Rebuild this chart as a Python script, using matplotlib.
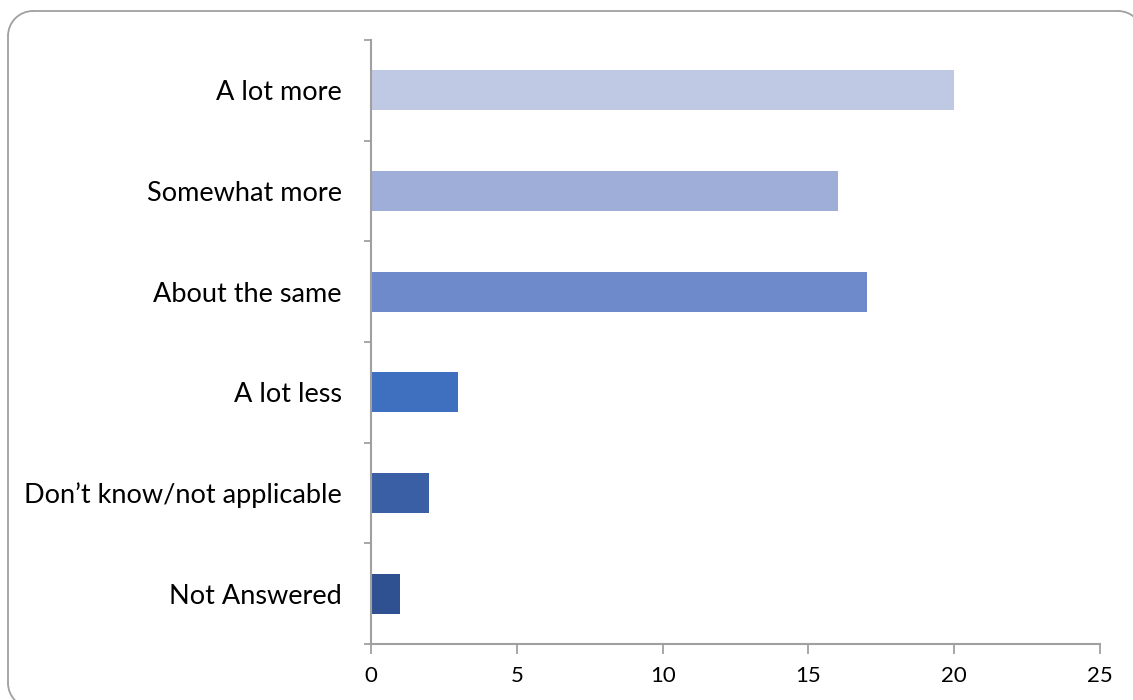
import matplotlib.pyplot as plt
from matplotlib.patches import Arc

plt.rcParams['font.family'] = ['Lato', 'DejaVu Sans']

# survey answers, top to bottom as shown
categories = ['A lot more', 'Somewhat more', 'About the same', 'A lot less',
              'Don\u2019t know/not applicable', 'Not Answered']
counts = [20, 16, 17, 3, 2, 1]
bar_colors = ['#BFC9E4', '#9FAED9', '#6E8ACB', '#3F6FBF', '#3A5FA5', '#2F5091']
xticks = [0, 5, 10, 15, 20, 25]

fig = plt.figure(figsize=(11.33, 7), dpi=100)

# background axes in pixel units (origin bottom left), only for the rounded frame
bg = fig.add_axes([0, 0, 1, 1])
bg.set_xlim(0, 1133)
bg.set_ylim(0, 700)
bg.axis('off')
fc = '#A0A0A0'
x0, x1, y0, y1, r = 8, 1143, -8, 689, 25
bg.plot([x0+r, x1-r], [y1, y1], color=fc, lw=1.3)
bg.plot([x0+r, x1-r], [y0, y0], color=fc, lw=1.3)
bg.plot([x0, x0], [y0+r, y1-r], color=fc, lw=1.3)
bg.plot([x1, x1], [y0+r, y1-r], color=fc, lw=1.3)
for cx, cy, a in [(x0+r, y1-r, 90), (x1-r, y1-r, 0), (x0+r, y0+r, 180), (x1-r, y0+r, 270)]:
    bg.add_patch(Arc((cx, cy), 2*r, 2*r, theta1=a, theta2=a+90, color=fc, lw=1.3))

ax = fig.add_axes([371/1133, 1-644/700, (1100-371)/1133, (644-40)/700])
ax.patch.set_alpha(0)

ypos = list(range(len(categories)))[::-1]
ax.barh(ypos, counts, height=0.4, color=bar_colors)

ax.set_xlim(0, 25)
ax.set_ylim(-0.5, len(categories)-0.5)
ax.set_xticks(xticks)
ax.set_xticklabels([str(t) for t in xticks], fontsize=16)
ax.set_yticks(ypos)
ax.set_yticklabels(categories, fontsize=19.5)
ax.set_yticks([i-0.5 for i in range(len(categories)+1)], minor=True)

ax.tick_params(axis='y', which='major', length=0, pad=21)
ax.tick_params(axis='y', which='minor', length=5, width=1.3, color='#A0A0A0', direction='out')
ax.tick_params(axis='x', length=7, width=1.3, color='#A0A0A0', direction='out', pad=9)

for s in ['top', 'right']:
    ax.spines[s].set_visible(False)
for s in ['left', 'bottom']:
    ax.spines[s].set_color('#A0A0A0')
    ax.spines[s].set_linewidth(1.5)

fig.savefig('out.png', dpi=100, bbox_inches=None)
